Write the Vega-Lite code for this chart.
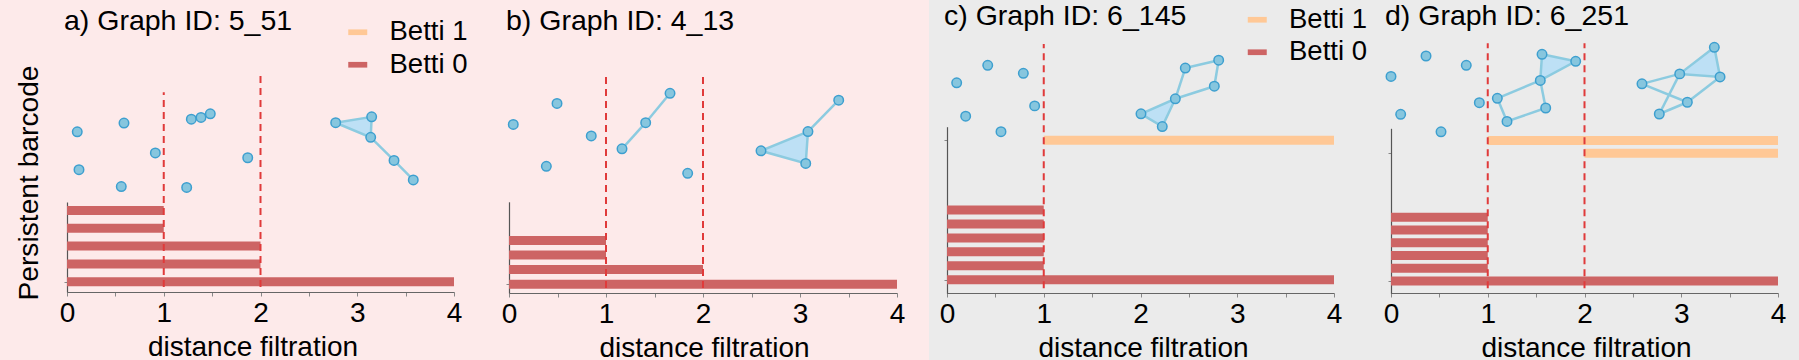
{
  "$schema": "https://vega.github.io/schema/vega-lite/v6.json",
  "padding": 0,
  "spacing": 0,
  "bounds": "flush",
  "background": "#ebebeb",
  "config": {
    "font": "Liberation Sans",
    "view": {"stroke": null},
    "axis": {"grid": false, "labelFontSize": 28, "labelColor": "#000", "titleFontSize": 28, "titleFontWeight": "normal", "titleColor": "#000", "tickColor": "#888", "tickSize": 4, "domainColor": "#666", "domainWidth": 1.2, "labelPadding": 3, "labelOverlap": false, "labelFlush": false, "labelBound": false},
    "title": {"fontSize": 28.5, "fontWeight": "normal", "color": "#000", "anchor": "start", "frame": "group", "baseline": "alphabetic"},
    "legend": {"labelFontSize": 27.5, "labelColor": "#000", "orient": "none", "padding": 0, "labelOffset": 18, "rowPadding": 3.5, "symbolType": "M-1,-0.3L1,-0.3L1,0.3L-1,0.3Z", "symbolSize": 361, "symbolStrokeWidth": 0}
  },
  "resolve": {"scale": {"color": "independent"}, "legend": {"color": "independent"}},
  "datasets": {
    "a_bars": [
      {"dim": "Betti 0", "y": 4, "x": 0, "x2": 1},
      {"dim": "Betti 0", "y": 3, "x": 0, "x2": 1},
      {"dim": "Betti 0", "y": 2, "x": 0, "x2": 2},
      {"dim": "Betti 0", "y": 1, "x": 0, "x2": 2},
      {"dim": "Betti 0", "y": 0, "x": 0, "x2": 4}
    ],
    "a_cuts": [{"x": 1, "y": -0.3, "y2": 10.65}, {"x": 2, "y": -0.3, "y2": 11.7}],
    "a_pts": [
      {"x": 0.106, "y": 8.43}, {"x": 0.589, "y": 8.92}, {"x": 0.124, "y": 6.3}, {"x": 0.561, "y": 5.35},
      {"x": 0.913, "y": 7.24}, {"x": 1.285, "y": 9.14}, {"x": 1.385, "y": 9.24}, {"x": 1.481, "y": 9.44},
      {"x": 1.237, "y": 5.3}, {"x": 1.868, "y": 6.97}, {"x": 2.777, "y": 8.94}, {"x": 3.149, "y": 9.27},
      {"x": 3.139, "y": 8.12}, {"x": 3.38, "y": 6.82}, {"x": 3.579, "y": 5.72}
    ],
    "a_tris": [
      {"g": "t1", "k": 0, "x": 2.777, "y": 8.94}, {"g": "t1", "k": 1, "x": 3.149, "y": 9.27},
      {"g": "t1", "k": 2, "x": 3.139, "y": 8.12}, {"g": "t1", "k": 3, "x": 2.777, "y": 8.94}
    ],
    "a_edges": [
      {"g": "e1", "x": 3.139, "y": 8.12}, {"g": "e1", "x": 3.38, "y": 6.82},
      {"g": "e2", "x": 3.38, "y": 6.82}, {"g": "e2", "x": 3.579, "y": 5.72}
    ],
    "b_bars": [
      {"dim": "Betti 0", "y": 3, "x": 0, "x2": 1},
      {"dim": "Betti 0", "y": 2, "x": 0, "x2": 1},
      {"dim": "Betti 0", "y": 1, "x": 0, "x2": 2},
      {"dim": "Betti 0", "y": 0, "x": 0, "x2": 4}
    ],
    "b_cuts": [{"x": 1, "y": -0.26, "y2": 14.37}, {"x": 2, "y": -0.26, "y2": 14.37}],
    "b_pts": [
      {"x": 0.044, "y": 10.94}, {"x": 0.495, "y": 12.38}, {"x": 0.848, "y": 10.15}, {"x": 0.385, "y": 8.07},
      {"x": 1.165, "y": 9.27}, {"x": 1.409, "y": 11.06}, {"x": 1.66, "y": 13.07}, {"x": 1.842, "y": 7.59},
      {"x": 2.598, "y": 9.13}, {"x": 3.059, "y": 8.27}, {"x": 3.082, "y": 10.45}, {"x": 3.399, "y": 12.6}
    ],
    "b_tris": [
      {"g": "t1", "k": 0, "x": 2.598, "y": 9.13}, {"g": "t1", "k": 1, "x": 3.082, "y": 10.45},
      {"g": "t1", "k": 2, "x": 3.059, "y": 8.27}, {"g": "t1", "k": 3, "x": 2.598, "y": 9.13}
    ],
    "b_edges": [
      {"g": "e1", "x": 1.165, "y": 9.27}, {"g": "e1", "x": 1.409, "y": 11.06},
      {"g": "e2", "x": 1.409, "y": 11.06}, {"g": "e2", "x": 1.66, "y": 13.07},
      {"g": "e3", "x": 3.082, "y": 10.45}, {"g": "e3", "x": 3.399, "y": 12.6}
    ],
    "c_bars": [
      {"dim": "Betti 1", "y": 10, "x": 1, "x2": 4},
      {"dim": "Betti 0", "y": 5, "x": 0, "x2": 1},
      {"dim": "Betti 0", "y": 4, "x": 0, "x2": 1},
      {"dim": "Betti 0", "y": 3, "x": 0, "x2": 1},
      {"dim": "Betti 0", "y": 2, "x": 0, "x2": 1},
      {"dim": "Betti 0", "y": 1, "x": 0, "x2": 1},
      {"dim": "Betti 0", "y": 0, "x": 0, "x2": 4}
    ],
    "c_cuts": [{"x": 1, "y": -0.61, "y2": 16.9}],
    "c_pts": [
      {"x": 0.1, "y": 14.11}, {"x": 0.421, "y": 15.37}, {"x": 0.789, "y": 14.79}, {"x": 0.193, "y": 11.72},
      {"x": 0.906, "y": 12.46}, {"x": 0.558, "y": 10.61}, {"x": 2.005, "y": 11.89}, {"x": 2.225, "y": 10.98},
      {"x": 2.36, "y": 12.97}, {"x": 2.463, "y": 15.17}, {"x": 2.808, "y": 15.73}, {"x": 2.763, "y": 13.87}
    ],
    "c_tris": [
      {"g": "t1", "k": 0, "x": 2.005, "y": 11.89}, {"g": "t1", "k": 1, "x": 2.36, "y": 12.97},
      {"g": "t1", "k": 2, "x": 2.225, "y": 10.98}, {"g": "t1", "k": 3, "x": 2.005, "y": 11.89}
    ],
    "c_edges": [
      {"g": "e1", "x": 2.36, "y": 12.97}, {"g": "e1", "x": 2.463, "y": 15.17},
      {"g": "e2", "x": 2.463, "y": 15.17}, {"g": "e2", "x": 2.808, "y": 15.73},
      {"g": "e3", "x": 2.808, "y": 15.73}, {"g": "e3", "x": 2.763, "y": 13.87},
      {"g": "e4", "x": 2.763, "y": 13.87}, {"g": "e4", "x": 2.36, "y": 12.97}
    ],
    "d_bars": [
      {"dim": "Betti 1", "y": 11, "x": 1, "x2": 4},
      {"dim": "Betti 1", "y": 10, "x": 2, "x2": 4},
      {"dim": "Betti 0", "y": 5, "x": 0, "x2": 1},
      {"dim": "Betti 0", "y": 4, "x": 0, "x2": 1},
      {"dim": "Betti 0", "y": 3, "x": 0, "x2": 1},
      {"dim": "Betti 0", "y": 2, "x": 0, "x2": 1},
      {"dim": "Betti 0", "y": 1, "x": 0, "x2": 1},
      {"dim": "Betti 0", "y": 0, "x": 0, "x2": 4}
    ],
    "d_cuts": [{"x": 1, "y": -0.57, "y2": 18.6}, {"x": 2, "y": -0.57, "y2": 18.6}],
    "d_pts": [
      {"x": 0.0, "y": 16.01}, {"x": 0.362, "y": 17.61}, {"x": 0.778, "y": 16.88}, {"x": 0.1, "y": 13.05},
      {"x": 0.913, "y": 13.96}, {"x": 0.517, "y": 11.68},
      {"x": 1.561, "y": 17.74}, {"x": 1.909, "y": 17.19}, {"x": 1.543, "y": 15.7}, {"x": 1.099, "y": 14.3},
      {"x": 1.199, "y": 12.49}, {"x": 1.599, "y": 13.54},
      {"x": 3.342, "y": 18.29}, {"x": 2.984, "y": 16.21}, {"x": 3.401, "y": 15.97}, {"x": 2.594, "y": 15.43},
      {"x": 3.063, "y": 13.99}, {"x": 2.773, "y": 13.07}
    ],
    "d_tris": [
      {"g": "t1", "k": 0, "x": 1.561, "y": 17.74}, {"g": "t1", "k": 1, "x": 1.909, "y": 17.19},
      {"g": "t1", "k": 2, "x": 1.543, "y": 15.7}, {"g": "t1", "k": 3, "x": 1.561, "y": 17.74},
      {"g": "t2", "k": 0, "x": 3.342, "y": 18.29}, {"g": "t2", "k": 1, "x": 3.401, "y": 15.97},
      {"g": "t2", "k": 2, "x": 2.984, "y": 16.21}, {"g": "t2", "k": 3, "x": 3.342, "y": 18.29}
    ],
    "d_edges": [
      {"g": "e1", "x": 1.543, "y": 15.7}, {"g": "e1", "x": 1.099, "y": 14.3},
      {"g": "e2", "x": 1.099, "y": 14.3}, {"g": "e2", "x": 1.199, "y": 12.49},
      {"g": "e3", "x": 1.199, "y": 12.49}, {"g": "e3", "x": 1.599, "y": 13.54},
      {"g": "e4", "x": 1.599, "y": 13.54}, {"g": "e4", "x": 1.543, "y": 15.7},
      {"g": "e5", "x": 2.594, "y": 15.43}, {"g": "e5", "x": 2.984, "y": 16.21},
      {"g": "e6", "x": 2.984, "y": 16.21}, {"g": "e6", "x": 2.773, "y": 13.07},
      {"g": "e7", "x": 2.594, "y": 15.43}, {"g": "e7", "x": 3.063, "y": 13.99},
      {"g": "e8", "x": 3.063, "y": 13.99}, {"g": "e8", "x": 3.401, "y": 15.97},
      {"g": "e9", "x": 2.773, "y": 13.07}, {"g": "e9", "x": 3.063, "y": 13.99}
    ]
  },
  "hconcat": [
    {
      "width": 480, "height": 360,
      "view": {"fill": "#fdeaea", "stroke": null},
      "title": {"text": "a) Graph ID: 5_51", "offset": -35, "dx": 64},
      "encoding": {
        "x": {"field": "x", "type": "quantitative", "scale": {"domain": [0, 4], "range": [67, 454], "nice": false, "zero": false},
              "axis": {"values": [0, 0.5, 1, 1.5, 2, 2.5, 3, 3.5, 4], "labelExpr": "datum.value % 1 === 0 ? '' + datum.value : ''", "offset": -68, "title": "distance filtration", "titleX": 252.5, "titleY": 63, "titleBaseline": "alphabetic", "titleAlign": "center"}},
        "y": {"field": "y", "type": "quantitative", "scale": {"domain": [-0.3, 4.2], "range": [292, 202], "nice": false, "zero": false},
              "axis": {"values": [0], "labels": false, "offset": -67, "domainColor": "#555", "tickSize": 3, "title": "Persistent barcode", "titleFontSize": 28.2, "titleX": -29.5, "titleY": 182.5, "titleBaseline": "alphabetic", "titleAngle": -90, "titleAlign": "center"}}
      },
      "layer": [
        {"data": {"name": "a_bars"}, "mark": {"type": "bar", "size": 9},
         "encoding": {"x2": {"field": "x2"}, "color": {"field": "dim", "type": "nominal", "scale": {"domain": ["Betti 1", "Betti 0"], "range": ["#ffc896", "#cd6464"]}, "legend": {"title": null, "legendX": 344, "legendY": 18.5}}}},
        {"data": {"name": "a_cuts"}, "mark": {"type": "rule", "color": "#e03a3a", "strokeWidth": 2, "strokeDash": [7, 5]}, "encoding": {"y2": {"field": "y2"}}},
        {"data": {"name": "a_tris"}, "mark": {"type": "line", "fill": "#bde0f5", "stroke": "#8ccbe0", "strokeWidth": 2.5}, "encoding": {"detail": {"field": "g", "type": "nominal"}, "order": {"field": "k", "type": "quantitative"}}},
        {"data": {"name": "a_edges"}, "mark": {"type": "line", "stroke": "#8ccbe0", "strokeWidth": 2.5}, "encoding": {"detail": {"field": "g", "type": "nominal"}}},
        {"data": {"name": "a_pts"}, "mark": {"type": "circle", "size": 90, "fill": "#87c6de", "stroke": "#3d9fcf", "strokeWidth": 1.5, "opacity": 1}}
      ]
    },
    {
      "width": 449, "height": 360,
      "view": {"fill": "#fdeaea", "stroke": null},
      "title": {"text": "b) Graph ID: 4_13", "offset": -35, "dx": 26},
      "encoding": {
        "x": {"field": "x", "type": "quantitative", "scale": {"domain": [0, 4], "range": [29, 417], "nice": false, "zero": false},
              "axis": {"values": [0, 0.5, 1, 1.5, 2, 2.5, 3, 3.5, 4], "labelExpr": "datum.value % 1 === 0 ? '' + datum.value : ''", "offset": -67, "title": "distance filtration", "titleX": 224, "titleY": 63, "titleBaseline": "alphabetic", "titleAlign": "center"}},
        "y": {"field": "y", "type": "quantitative", "scale": {"domain": [-0.26, 5.3], "range": [293, 201.8], "nice": false, "zero": false},
              "axis": {"values": [0], "labels": false, "offset": -29, "domainColor": "#555", "tickSize": 3, "title": null}}
      },
      "layer": [
        {"data": {"name": "b_bars"}, "mark": {"type": "bar", "size": 9},
         "encoding": {"x2": {"field": "x2"}, "color": {"field": "dim", "type": "nominal", "scale": {"domain": ["Betti 1", "Betti 0"], "range": ["#ffc896", "#cd6464"]}, "legend": null}}},
        {"data": {"name": "b_cuts"}, "mark": {"type": "rule", "color": "#e03a3a", "strokeWidth": 2, "strokeDash": [7, 5]}, "encoding": {"y2": {"field": "y2"}}},
        {"data": {"name": "b_tris"}, "mark": {"type": "line", "fill": "#bde0f5", "stroke": "#8ccbe0", "strokeWidth": 2.5}, "encoding": {"detail": {"field": "g", "type": "nominal"}, "order": {"field": "k", "type": "quantitative"}}},
        {"data": {"name": "b_edges"}, "mark": {"type": "line", "stroke": "#8ccbe0", "strokeWidth": 2.5}, "encoding": {"detail": {"field": "g", "type": "nominal"}}},
        {"data": {"name": "b_pts"}, "mark": {"type": "circle", "size": 90, "fill": "#87c6de", "stroke": "#3d9fcf", "strokeWidth": 1.5, "opacity": 1}}
      ]
    },
    {
      "width": 446, "height": 360,
      "view": {"fill": "#ebebeb", "stroke": null},
      "title": {"text": "c) Graph ID: 6_145", "offset": -30.5, "dx": 15},
      "encoding": {
        "x": {"field": "x", "type": "quantitative", "scale": {"domain": [0, 4], "range": [18, 405], "nice": false, "zero": false},
              "axis": {"values": [0, 0.5, 1, 1.5, 2, 2.5, 3, 3.5, 4], "labelExpr": "datum.value % 1 === 0 ? '' + datum.value : ''", "offset": -67, "title": "distance filtration", "titleX": 214, "titleY": 63, "titleBaseline": "alphabetic", "titleAlign": "center"}},
        "y": {"field": "y", "type": "quantitative", "scale": {"domain": [-0.61, 10.61], "range": [293.3, 126.7], "nice": false, "zero": false},
              "axis": {"values": [0, 10], "labels": false, "offset": -18, "domainColor": "#555", "tickSize": 3, "title": null}}
      },
      "layer": [
        {"data": {"name": "c_bars"}, "mark": {"type": "bar", "size": 9},
         "encoding": {"x2": {"field": "x2"}, "color": {"field": "dim", "type": "nominal", "scale": {"domain": ["Betti 1", "Betti 0"], "range": ["#ffc896", "#cd6464"]}, "legend": {"title": null, "legendX": 314.5, "legendY": 6}}}},
        {"data": {"name": "c_cuts"}, "mark": {"type": "rule", "color": "#e03a3a", "strokeWidth": 2, "strokeDash": [7, 5]}, "encoding": {"y2": {"field": "y2"}}},
        {"data": {"name": "c_tris"}, "mark": {"type": "line", "fill": "#bde0f5", "stroke": "#8ccbe0", "strokeWidth": 2.5}, "encoding": {"detail": {"field": "g", "type": "nominal"}, "order": {"field": "k", "type": "quantitative"}}},
        {"data": {"name": "c_edges"}, "mark": {"type": "line", "stroke": "#8ccbe0", "strokeWidth": 2.5}, "encoding": {"detail": {"field": "g", "type": "nominal"}}},
        {"data": {"name": "c_pts"}, "mark": {"type": "circle", "size": 90, "fill": "#87c6de", "stroke": "#3d9fcf", "strokeWidth": 1.5, "opacity": 1}}
      ]
    },
    {
      "width": 424, "height": 360,
      "view": {"fill": "#ebebeb", "stroke": null},
      "title": {"text": "d) Graph ID: 6_251", "offset": -30.5, "dx": 10},
      "encoding": {
        "x": {"field": "x", "type": "quantitative", "scale": {"domain": [0, 4], "range": [16, 403], "nice": false, "zero": false},
              "axis": {"values": [0, 0.5, 1, 1.5, 2, 2.5, 3, 3.5, 4], "labelExpr": "datum.value % 1 === 0 ? '' + datum.value : ''", "offset": -67, "title": "distance filtration", "titleX": 211, "titleY": 63, "titleBaseline": "alphabetic", "titleAlign": "center"}},
        "y": {"field": "y", "type": "quantitative", "scale": {"domain": [-0.57, 11.56], "range": [293.3, 128.3], "nice": false, "zero": false},
              "axis": {"values": [0, 10], "labels": false, "offset": -16, "domainColor": "#555", "tickSize": 3, "title": null}}
      },
      "layer": [
        {"data": {"name": "d_bars"}, "mark": {"type": "bar", "size": 9},
         "encoding": {"x2": {"field": "x2"}, "color": {"field": "dim", "type": "nominal", "scale": {"domain": ["Betti 1", "Betti 0"], "range": ["#ffc896", "#cd6464"]}, "legend": null}}},
        {"data": {"name": "d_cuts"}, "mark": {"type": "rule", "color": "#e03a3a", "strokeWidth": 2, "strokeDash": [7, 5]}, "encoding": {"y2": {"field": "y2"}}},
        {"data": {"name": "d_tris"}, "mark": {"type": "line", "fill": "#bde0f5", "stroke": "#8ccbe0", "strokeWidth": 2.5}, "encoding": {"detail": {"field": "g", "type": "nominal"}, "order": {"field": "k", "type": "quantitative"}}},
        {"data": {"name": "d_edges"}, "mark": {"type": "line", "stroke": "#8ccbe0", "strokeWidth": 2.5}, "encoding": {"detail": {"field": "g", "type": "nominal"}}},
        {"data": {"name": "d_pts"}, "mark": {"type": "circle", "size": 90, "fill": "#87c6de", "stroke": "#3d9fcf", "strokeWidth": 1.5, "opacity": 1}}
      ]
    }
  ]
}
